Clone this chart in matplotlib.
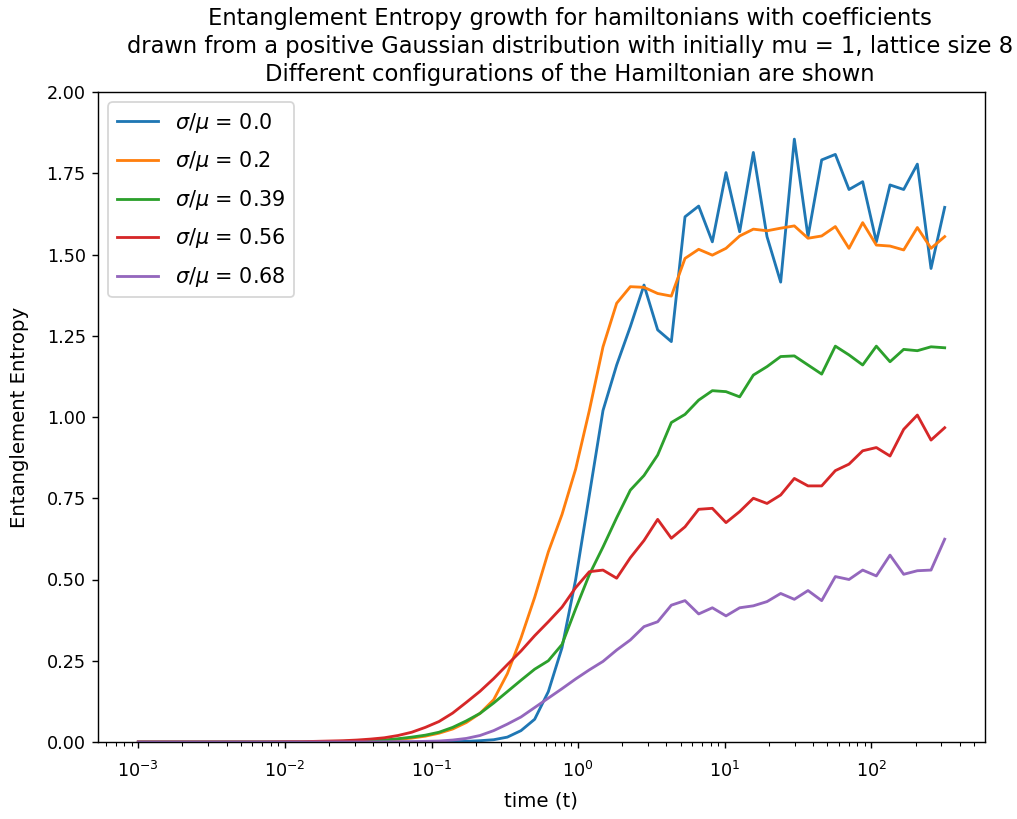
import numpy as np
import matplotlib
matplotlib.use("Agg")
import matplotlib.pyplot as plt

# time grid (log spaced, 60 samples from 1e-3 to 10^2.5)
times = np.logspace(-3, 2.5, 60)

labels = [r'$\sigma/\mu$ = 0.0', r'$\sigma/\mu$ = 0.2', r'$\sigma/\mu$ = 0.39',
          r'$\sigma/\mu$ = 0.56', r'$\sigma/\mu$ = 0.68']

s_000 = [0, 0, 0, 0, 0, 0, 0, 0, 0, 0,
         0, 0, 0, 0, 0, 0, 0, 0, 0, 0,
         0, 0, 0.0005, 0.001, 0.002, 0.004, 0.007, 0.015, 0.035, 0.07,
         0.155, 0.29, 0.50, 0.76, 1.02, 1.16, 1.278, 1.406, 1.268, 1.232,
         1.616, 1.649, 1.539, 1.752, 1.570, 1.814, 1.555, 1.415, 1.855, 1.555,
         1.791, 1.808, 1.700, 1.724, 1.539, 1.714, 1.700, 1.778, 1.457, 1.645]

s_020 = [0, 0, 0, 0, 0, 0, 0, 0, 0, 0,
         0, 0, 0, 0, 0.001, 0.001, 0.002, 0.003, 0.005, 0.008,
         0.012, 0.018, 0.027, 0.04, 0.06, 0.088, 0.13, 0.21, 0.32, 0.445,
         0.585, 0.70, 0.84, 1.02, 1.216, 1.350, 1.401, 1.399, 1.380, 1.372,
         1.488, 1.516, 1.498, 1.519, 1.557, 1.578, 1.573, 1.581, 1.588, 1.550,
         1.557, 1.586, 1.519, 1.598, 1.529, 1.526, 1.514, 1.583, 1.519, 1.555]

s_039 = [0, 0, 0, 0, 0, 0, 0, 0, 0, 0,
         0, 0, 0, 0.001, 0.001, 0.002, 0.003, 0.004, 0.006, 0.01,
         0.015, 0.021, 0.03, 0.045, 0.065, 0.088, 0.12, 0.155, 0.19, 0.224,
         0.25, 0.30, 0.41, 0.515, 0.60, 0.69, 0.775, 0.82, 0.883, 0.983,
         1.008, 1.052, 1.081, 1.078, 1.062, 1.129, 1.155, 1.186, 1.188, 1.160,
         1.132, 1.218, 1.191, 1.160, 1.218, 1.170, 1.208, 1.204, 1.216, 1.213]

s_056 = [0, 0, 0, 0, 0, 0, 0, 0, 0, 0,
         0.0005, 0.001, 0.001, 0.002, 0.003, 0.004, 0.006, 0.009, 0.013, 0.02,
         0.03, 0.045, 0.063, 0.089, 0.122, 0.156, 0.195, 0.238, 0.28, 0.327,
         0.37, 0.415, 0.475, 0.524, 0.529, 0.504, 0.567, 0.62, 0.685, 0.627,
         0.662, 0.716, 0.719, 0.675, 0.709, 0.750, 0.734, 0.760, 0.811, 0.788,
         0.788, 0.835, 0.855, 0.896, 0.906, 0.880, 0.962, 1.006, 0.929, 0.967]

s_068 = [0, 0, 0, 0, 0, 0, 0, 0, 0, 0,
         0, 0, 0, 0, 0, 0, 0, 0, 0.0005, 0.001,
         0.001, 0.002, 0.003, 0.006, 0.011, 0.02, 0.035, 0.055, 0.077, 0.106,
         0.135, 0.164, 0.194, 0.222, 0.248, 0.283, 0.314, 0.355, 0.370, 0.421,
         0.435, 0.394, 0.413, 0.388, 0.413, 0.419, 0.432, 0.457, 0.439, 0.466,
         0.435, 0.509, 0.500, 0.529, 0.511, 0.575, 0.516, 0.527, 0.529, 0.624]

series = [s_000, s_020, s_039, s_056, s_068]

fig = plt.figure(figsize=(1017 / 127, 819 / 127), dpi=127)
ax = fig.add_axes([98 / 1017, 77 / 819, 887 / 1017, 650 / 819])

for lab, vals in zip(labels, series):
    ax.plot(times, vals, label=lab, lw=1.6)

ax.set_xscale('log')
ax.set_ylim(0, 2)
ax.tick_params(axis='x', which='both', pad=7)
ax.set_xlabel('time (t)', fontsize=11.2, labelpad=6)
ax.set_ylabel('Entanglement Entropy', fontsize=11.2, labelpad=10)
ax.set_title('Entanglement Entropy growth for hamiltonians with coefficients\n'
             'drawn from a positive Gaussian distribution with initially mu = 1, lattice size 8\n'
             'Different configurations of the Hamiltonian are shown',
             x=0.532, fontsize=12.8, linespacing=1.3)
ax.legend(loc='upper left', fontsize=11.8, labelspacing=0.7)

fig.savefig('out.png', dpi=127)
